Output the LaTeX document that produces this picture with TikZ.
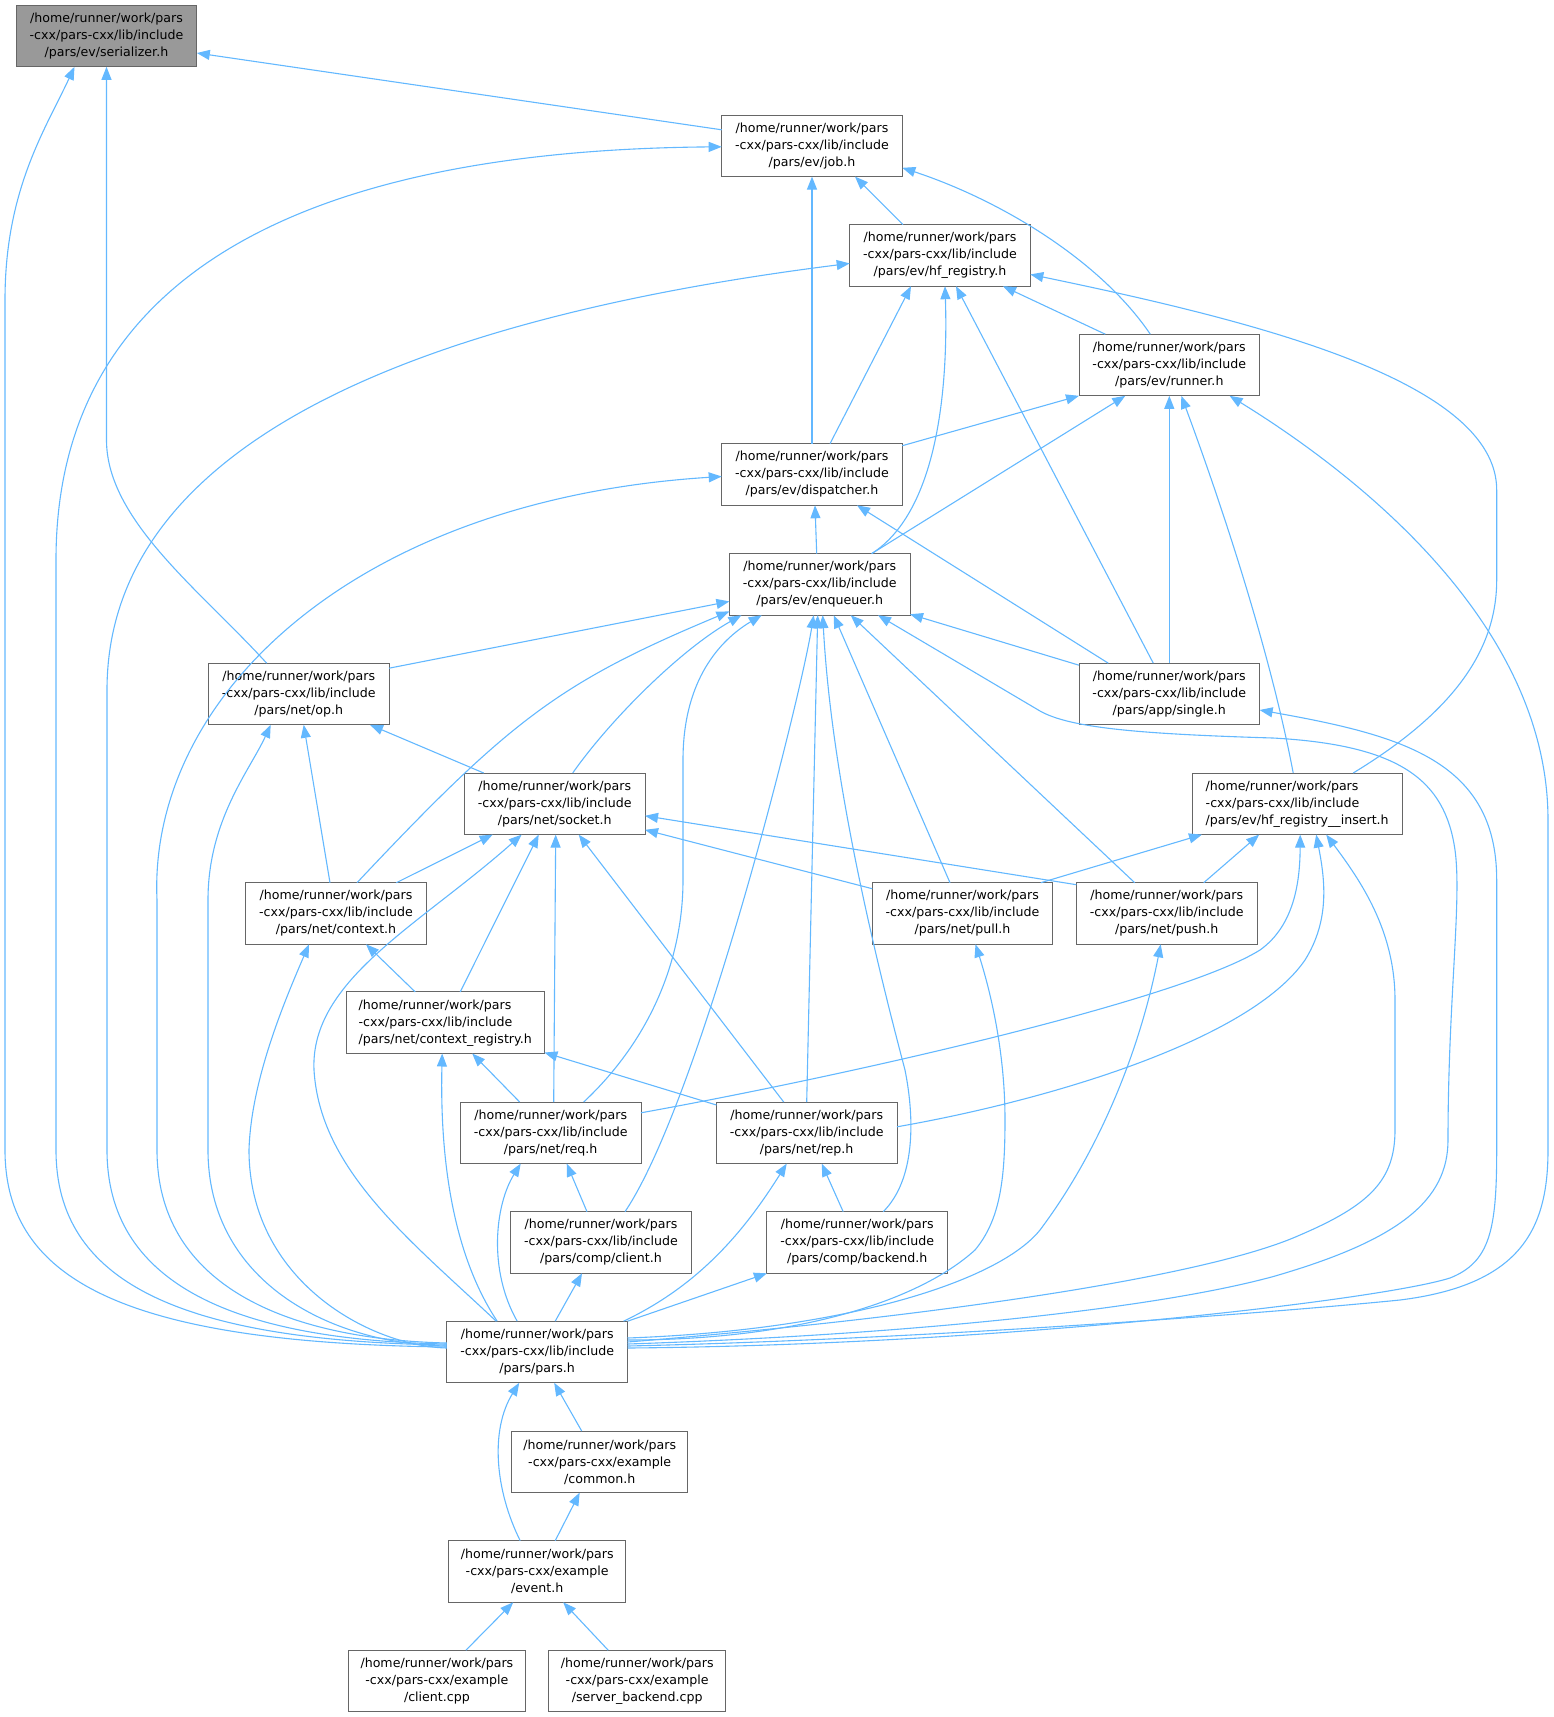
\documentclass[tikz,border=0pt]{standalone}
\usepackage{fontspec}
\setmainfont{DejaVu Sans}
\usetikzlibrary{arrows.meta,calc}
\definecolor{edgeblue}{HTML}{63B8FF}
\definecolor{boxborder}{HTML}{666666}
\definecolor{rootfill}{HTML}{999999}
\begin{document}
\begin{tikzpicture}[x=1pt,y=-1pt,
  box/.style={draw=boxborder, fill=white, line width=1pt, minimum width=180.6pt, minimum height=61.6pt,
    inner sep=0pt, outer sep=0pt, align=center, font=\fontsize{12.6}{17}\selectfont},
  exbox/.style={box, minimum width=176.5pt},
  rootbox/.style={box, fill=rootfill},
  edge/.style={draw=edgeblue, line width=1.1pt, -{Triangle[length=13pt,width=10pt]}}]
\useasboundingbox (0,0) rectangle (1554,1717);
% nodes
\node[rootbox] (ser) at (106.5,36) {/home/runner/work/pars\\-cxx/pars-cxx/lib/include\\/pars/ev/serializer.h};
\node[box] (job) at (812,145.8) {/home/runner/work/pars\\-cxx/pars-cxx/lib/include\\/pars/ev/job.h};
\node[box] (hfr) at (940,255.4) {/home/runner/work/pars\\-cxx/pars-cxx/lib/include\\/pars/ev/hf\_registry.h};
\node[box] (run) at (1169.3,365) {/home/runner/work/pars\\-cxx/pars-cxx/lib/include\\/pars/ev/runner.h};
\node[box] (dis) at (812,474.5) {/home/runner/work/pars\\-cxx/pars-cxx/lib/include\\/pars/ev/dispatcher.h};
\node[box] (enq) at (819.7,584.4) {/home/runner/work/pars\\-cxx/pars-cxx/lib/include\\/pars/ev/enqueuer.h};
\node[box] (op) at (298.7,694) {/home/runner/work/pars\\-cxx/pars-cxx/lib/include\\/pars/net/op.h};
\node[box] (sgl) at (1169.3,694) {/home/runner/work/pars\\-cxx/pars-cxx/lib/include\\/pars/app/single.h};
\node[box] (sock) at (554.7,803.8) {/home/runner/work/pars\\-cxx/pars-cxx/lib/include\\/pars/net/socket.h};
\node[box, minimum width=210.4pt, align=left] (hfi) at (1297.2,803.8) {/home/runner/work/pars\\-cxx/pars-cxx/lib/include\\/pars/ev/hf\_registry\_\_insert.h};
\node[box] (ctx) at (336,913.5) {/home/runner/work/pars\\-cxx/pars-cxx/lib/include\\/pars/net/context.h};
\node[box] (pull) at (962.5,913.5) {/home/runner/work/pars\\-cxx/pars-cxx/lib/include\\/pars/net/pull.h};
\node[box] (push) at (1166.7,913.5) {/home/runner/work/pars\\-cxx/pars-cxx/lib/include\\/pars/net/push.h};
\node[box, minimum width=198.4pt, align=left] (creg) at (445.2,1022.7) {/home/runner/work/pars\\-cxx/pars-cxx/lib/include\\/pars/net/context\_registry.h};
\node[box] (req) at (550.7,1132.8) {/home/runner/work/pars\\-cxx/pars-cxx/lib/include\\/pars/net/req.h};
\node[box] (rep) at (806.7,1132.8) {/home/runner/work/pars\\-cxx/pars-cxx/lib/include\\/pars/net/rep.h};
\node[box] (cli) at (601,1242.5) {/home/runner/work/pars\\-cxx/pars-cxx/lib/include\\/pars/comp/client.h};
\node[box] (bak) at (857.2,1242.5) {/home/runner/work/pars\\-cxx/pars-cxx/lib/include\\/pars/comp/backend.h};
\node[box] (pars) at (537.2,1352) {/home/runner/work/pars\\-cxx/pars-cxx/lib/include\\/pars/pars.h};
\node[exbox] (com) at (599.7,1461.8) {/home/runner/work/pars\\-cxx/pars-cxx/example\\/common.h};
\node[exbox] (evt) at (537.2,1571.5) {/home/runner/work/pars\\-cxx/pars-cxx/example\\/event.h};
\node[exbox] (ccpp) at (436.9,1681) {/home/runner/work/pars\\-cxx/pars-cxx/example\\/client.cpp};
\node[exbox] (scpp) at (637.2,1681) {/home/runner/work/pars\\-cxx/pars-cxx/example\\/server\_backend.cpp};
% edges into serializer
\draw[edge] ($(job.west)+(0,-16)$) -- ($(ser.east)+(0,17)$);
\draw[edge] ($(pars.west)+(0,-5)$) .. controls (125,1343) and (5,1280) .. (5,1150) -- (5,300) .. controls (5,190) and (45,130) .. ($(ser.south)+(-32,0)$);
\draw[edge] ($(op.north)+(-32,0)$) .. controls (200,590) and (106.5,520) .. (106.5,440) -- (ser.south);
% edges into job
\draw[edge] ($(pars.west)+(0,-7)$) .. controls (176,1341) and (56,1280) .. (56,1150) -- (56,560) .. controls (56,260) and (330,150) .. ($(job.west)+(0,1)$);
\draw[edge] ($(hfr.north)+(-37,0)$) -- ($(job.south)+(43,0)$);
\draw[edge] ($(run.north)+(-19,0)$) .. controls (1100,260) and (1000,200) .. ($(job.east)+(0,22)$);
\draw[edge] (dis.north) -- (job.south);
% edges into hf_registry
\draw[edge] ($(pars.west)+(0,-8)$) .. controls (227,1340) and (107,1280) .. (107,1150) -- (107,690) .. controls (107,450) and (400,320) .. ($(hfr.west)+(0,8)$);
\draw[edge] ($(run.north)+(-64,0)$) -- ($(hfr.south)+(63,0)$);
\draw[edge] ($(dis.north)+(18,0)$) -- ($(hfr.south)+(-29,0)$);
\draw[edge] ($(enq.north)+(52,0)$) .. controls (940,510) and (948,380) .. ($(hfr.south)+(5,0)$);
\draw[edge] ($(sgl.north)+(-16,0)$) -- ($(hfr.south)+(16,0)$);
\draw[edge] ($(hfi.north)+(56,0)$) .. controls (1440,720) and (1496.7,660) .. (1496.7,580) -- (1496.7,490) .. controls (1496.7,380) and (1250,320) .. ($(hfr.east)+(0,19)$);
% edges into runner
\draw[edge] ($(dis.north east)+(0,2)$) -- (run.south west);
\draw[edge] ($(enq.north)+(52,0)$) -- ($(run.south)+(-44,0)$);
\draw[edge] (sgl.north) -- (run.south);
\draw[edge] ($(hfi.north)+(-4,0)$) .. controls (1270,650) and (1220,500) .. ($(run.south)+(12,0)$);
\draw[edge] ($(pars.east)+(0,-6)$) .. controls (900,1340) and (1250,1315) .. (1400,1300) .. controls (1520,1285) and (1548,1230) .. (1548,1150) -- (1548,820) .. controls (1548,620) and (1350,470) .. ($(run.south east)+(-30,0)$);
% edges into dispatcher
\draw[edge] ($(pars.west)+(0,-9)$) .. controls (277,1339) and (157,1280) .. (157,1150) -- (157,900) .. controls (148,700) and (350,500) .. ($(dis.west)+(0,2)$);
\draw[edge] ($(sgl.north)+(-61,0)$) -- ($(dis.south)+(45,0)$);
\draw[edge] ($(enq.north)+(-3,0)$) -- ($(dis.south)+(3,0)$);
% edges into enqueuer
\draw[edge] ($(op.north east)+(0,5)$) -- ($(enq.west)+(0,17)$);
\draw[edge] ($(ctx.north)+(21,0)$) .. controls (510,720) and (560,682) .. ($(enq.west)+(0,27)$);
\draw[edge] ($(sock.north)+(18,0)$) .. controls (610,720) and (680,650) .. ($(enq.south west)+(12,0)$);
\draw[edge] ($(req.north)+(33,0)$) .. controls (650,1040) and (683,960) .. (683,880) -- (683,760) .. controls (683,680) and (720,640) .. ($(enq.south)+(-58,0)$);
\draw[edge] ($(cli.north)+(24,0)$) .. controls (700,1100) and (800,700) .. ($(enq.south)+(-6,0)$);
\draw[edge] (rep.north) -- ($(enq.south)+(-2,0)$);
\draw[edge] ($(bak.north)+(26,0)$) .. controls (915,1180) and (915,1120) .. (905,1070) .. controls (860,900) and (830,750) .. ($(enq.south)+(3,0)$);
\draw[edge] ($(pull.north)+(-12.5,0)$) -- ($(enq.south)+(14,0)$);
\draw[edge] ($(push.north)+(-32,0)$) -- ($(enq.south)+(31,0)$);
\draw[edge] ($(sgl.north west)+(0,2)$) -- ($(enq.south east)+(0,-1)$);
\draw[edge] ($(pars.east)+(0,-8)$) .. controls (900,1335) and (1150,1310) .. (1273,1276.6) .. controls (1400,1240) and (1448,1200) .. (1448,1140) .. controls (1448,1000) and (1462,900) .. (1455,850) .. controls (1445,780) and (1400,745) .. (1273,738) .. controls (1140,734) and (1070,728) .. (1040,711) -- ($(enq.south east)+(-32,0)$);
% edges into single
\draw[edge] ($(pars.east)+(0,-4)$) .. controls (1000,1345) and (1380,1300) .. (1450,1278) .. controls (1490,1262) and (1496.7,1230) .. (1496.7,1150) -- (1496.7,880) .. controls (1496.7,760) and (1400,735) .. ($(sgl.east)+(0,16)$);
% edges into op
\draw[edge] ($(pars.west)+(0,-6)$) .. controls (328,1344) and (208,1280) .. (208,1150) -- (208,900) .. controls (208,820) and (250,770) .. ($(op.south)+(-28,0)$);
\draw[edge] ($(sock.north)+(-71,0)$) -- ($(op.south east)+(-19,0)$);
\draw[edge] ($(ctx.north)+(-6,0)$) -- ($(op.south)+(5,0)$);
% edges into socket
\draw[edge] ($(ctx.north east)+(-30,0)$) -- ($(sock.south)+(-62,0)$);
\draw[edge] ($(creg.north)+(15,0)$) -- ($(sock.south)+(-16,0)$);
\draw[edge] ($(req.north)+(3,0)$) -- ($(sock.south)+(1,0)$);
\draw[edge] ($(rep.north)+(-23,0)$) -- ($(sock.south)+(24,0)$);
\draw[edge] ($(pull.north west)+(0,6)$) -- ($(sock.east)+(0,26)$);
\draw[edge] ($(push.north west)+(0,2)$) -- ($(sock.east)+(0,12)$);
\draw[edge] ($(pars.north)+(-41,0)$) .. controls (410,1240) and (320,1170) .. (314,1070) .. controls (310,980) and (420,925) .. ($(sock.south)+(-33,0)$);
% edges into hf_registry__insert
\draw[edge] ($(pull.north east)+(-12,0)$) -- ($(hfi.south west)+(10,0)$);
\draw[edge] ($(push.north)+(37,0)$) -- ($(hfi.south)+(-38,0)$);
\draw[edge] ($(req.east)+(0,-20)$) .. controls (850,1075) and (1180,1000) .. (1260,950) .. controls (1295,925) and (1300,880) .. ($(hfi.south)+(3,0)$);
\draw[edge] ($(rep.east)+(0,-6)$) .. controls (1050,1100) and (1250,1040) .. (1305,960) .. controls (1330,920) and (1325,880) .. ($(hfi.south)+(19,0)$);
\draw[edge] ($(pars.east)+(0,-10)$) .. controls (900,1320) and (1200,1280) .. (1300,1235) .. controls (1370,1205) and (1395,1180) .. (1395,1130) -- (1395,1000) .. controls (1395,930) and (1360,880) .. ($(hfi.south)+(29,0)$);
% edges into context
\draw[edge] ($(pars.west)+(0,-4)$) .. controls (369,1346) and (249,1280) .. (249,1150) .. controls (251,1080) and (285,1000) .. ($(ctx.south)+(-27,0)$);
\draw[edge] ($(creg.north)+(-30,0)$) -- ($(ctx.south)+(30,0)$);
% edges into pull / push
\draw[edge] ($(pars.east)+(0,-12)$) .. controls (800,1340) and (920,1300) .. (975,1250) .. controls (1000,1220) and (1005,1180) .. (1005,1120) .. controls (1005,1050) and (990,990) .. ($(pull.south)+(13,0)$);
\draw[edge] ($(pars.east)+(0,-14)$) .. controls (850,1330) and (1000,1280) .. (1040,1230) .. controls (1100,1150) and (1140,1050) .. ($(push.south)+(-6,0)$);
% edges into context_registry
\draw[edge] ($(req.north)+(-31,0)$) -- ($(creg.south)+(27,0)$);
\draw[edge] ($(rep.north west)+(0,3)$) -- ($(creg.south east)+(0,-1)$);
\draw[edge] ($(pars.north)+(-40,0)$) .. controls (450,1250) and (440,1150) .. ($(creg.south)+(-3,0)$);
% edges into req / rep
\draw[edge] ($(cli.north)+(-14,0)$) -- ($(req.south)+(16,0)$);
\draw[edge] ($(pars.north)+(-20,0)$) .. controls (488,1270) and (495,1205) .. ($(req.south)+(-30,0)$);
\draw[edge] ($(bak.north)+(-14,0)$) -- ($(rep.south)+(15,0)$);
\draw[edge] ($(pars.north east)+(-4,0)$) .. controls (700,1285) and (745,1230) .. ($(rep.south)+(-20,0)$);
% edges into client.h / backend.h
\draw[edge] ($(pars.north)+(18,0)$) -- ($(cli.south)+(-19,0)$);
\draw[edge] (pars.north east) -- (bak.south west);
% bottom part
\draw[edge] ($(com.north)+(-18,0)$) -- ($(pars.south)+(17,0)$);
\draw[edge] ($(evt.north)+(-17,0)$) .. controls (495,1490) and (490,1430) .. ($(pars.south)+(-18,0)$);
\draw[edge] ($(evt.north)+(18,0)$) -- ($(com.south)+(-20,0)$);
\draw[edge] ($(ccpp.north)+(29,0)$) -- ($(evt.south)+(-24,0)$);
\draw[edge] ($(scpp.north)+(-29,0)$) -- ($(evt.south)+(26,0)$);
\end{tikzpicture}
\end{document}
